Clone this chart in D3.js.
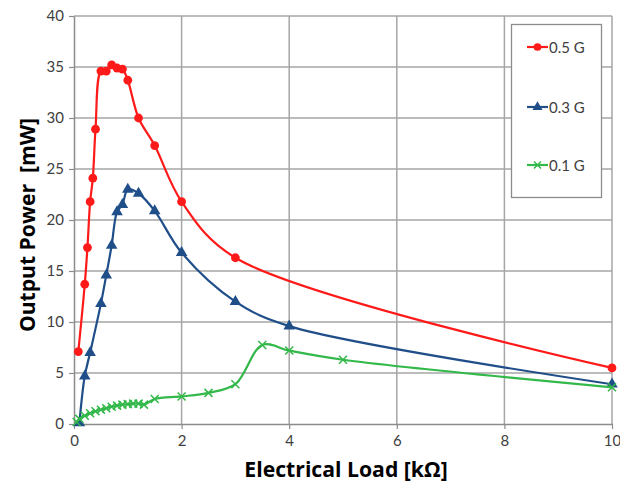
<!DOCTYPE html>
<html>
<head>
<meta charset="UTF-8">
<script src="https://d3js.org/d3.v7.min.js"></script>
<style>
  body { margin: 0; background: #fff; }
  svg { display: block; font-family: Lato, "Open Sans", sans-serif; }
  .tick text { fill: #404040; font-size: 15px; }
  .title { font-weight: bold; font-size: 20px; fill: #000; font-family: "Open Sans", Lato, sans-serif; }
</style>
</head>
<body>
<svg width="620" height="487"></svg>
<script>
// Output power [mW] vs. electrical load [kOhm] for three acceleration levels
const redX = [0.08, 0.2, 0.25, 0.3, 0.35, 0.4, 0.5, 0.6, 0.7, 0.8, 0.9, 1.0, 1.2, 1.5, 2, 3, 10];
const redY = [7.1, 13.7, 17.3, 21.8, 24.1, 28.9, 34.6, 34.6, 35.2, 34.9, 34.8, 33.7, 30.0, 27.3, 21.8, 16.3, 5.5];

const blueX = [0.1, 0.2, 0.3, 0.5, 0.6, 0.7, 0.8, 0.9, 1.0, 1.2, 1.5, 2, 3, 4, 10];
const blueY = [0.1, 4.7, 7.0, 11.8, 14.6, 17.5, 20.8, 21.5, 23.0, 22.6, 20.9, 16.8, 12.0, 9.6, 3.9];

const greenX = [0.05, 0.1, 0.2, 0.3, 0.4, 0.5, 0.6, 0.7, 0.8, 0.9, 1.0, 1.1, 1.2, 1.3, 1.5, 2, 2.5, 3, 3.5, 4, 5, 10];
const greenY = [0.2, 0.5, 0.8, 1.05, 1.25, 1.4, 1.55, 1.7, 1.8, 1.9, 1.95, 2.0, 2.0, 1.9, 2.45, 2.7, 3.05, 3.9, 7.75, 7.2, 6.3, 3.6];

const seriesNames = ["0.5 G", "0.3 G", "0.1 G"];
const xTicks = [0, 2, 4, 6, 8, 10];
const yTicks = [0, 5, 10, 15, 20, 25, 30, 35, 40];

const series = [
  { name: seriesNames[0], xs: redX, ys: redY, color: "#ff1a1a", marker: "circle" },
  { name: seriesNames[1], xs: blueX, ys: blueY, color: "#1f4e89", marker: "triangle" },
  { name: seriesNames[2], xs: greenX, ys: greenY, color: "#33b84a", marker: "cross" }
];

const svg = d3.select("svg");
const margin = { left: 74, right: 8, top: 16, bottom: 63 };
const W = 620, H = 487;

const x = d3.scaleLinear().domain([0, 10]).range([margin.left, W - margin.right]);
const y = d3.scaleLinear().domain([0, 40]).range([H - margin.bottom, margin.top]);

// grid
const grid = svg.append("g");
grid.selectAll(".gx").data(xTicks.slice(1)).enter().append("line")
  .attr("x1", d => x(d)).attr("x2", d => x(d))
  .attr("y1", y(0)).attr("y2", y(40))
  .attr("stroke", "#a6a6a6").attr("stroke-width", 1.5);
grid.selectAll(".gy").data(yTicks.slice(1)).enter().append("line")
  .attr("x1", x(0)).attr("x2", x(10))
  .attr("y1", d => y(d)).attr("y2", d => y(d))
  .attr("stroke", "#a6a6a6").attr("stroke-width", 1.5);

// axes
const xAxis = svg.append("g").attr("transform", `translate(0,${y(0)})`)
  .call(d3.axisBottom(x).tickValues(xTicks).tickSize(5).tickSizeOuter(0).tickPadding(6));
const yAxis = svg.append("g").attr("transform", `translate(${x(0)},0)`)
  .call(d3.axisLeft(y).tickValues(yTicks).tickSize(5).tickSizeOuter(0).tickPadding(5));
[xAxis, yAxis].forEach(a => {
  a.select(".domain").attr("stroke", "#8c8c8c").attr("stroke-width", 1.5);
  a.selectAll(".tick line").attr("stroke", "#8c8c8c").attr("stroke-width", 1.2);
  a.selectAll(".tick text").attr("font-family", "Lato, 'Open Sans', sans-serif");
});

// titles (sized to match the reference text widths)
function fitWidth(sel, target) {
  const len = sel.node().getComputedTextLength();
  if (len > 0 && Math.abs(len - target) > 3) sel.style("font-size", (20 * target / len).toFixed(1) + "px");
}
const xTitle = svg.append("text").attr("class", "title")
  .attr("x", 346).attr("y", 477).attr("text-anchor", "middle")
  .text("Electrical Load [kΩ]");
fitWidth(xTitle, 203);
const yTitle = svg.append("text").attr("class", "title")
  .attr("transform", "translate(35,225) rotate(-90)").attr("text-anchor", "middle")
  .attr("xml:space", "preserve")
  .text("Output Power  [mW]");
fitWidth(yTitle, 214);

// lines and markers
const line = d3.line().curve(d3.curveCatmullRom.alpha(0.5))
  .x(d => x(d[0])).y(d => y(d[1]));

function drawMarker(g, type, color, size) {
  if (type === "circle") {
    g.append("circle").attr("r", size * 0.55).attr("fill", color);
  } else if (type === "triangle") {
    g.append("path").attr("d", d3.symbol(d3.symbolTriangle, size * size * 0.9)())
      .attr("fill", color);
  } else {
    const s = size * 0.5;
    g.append("path").attr("d", `M${-s},${-s}L${s},${s}M${-s},${s}L${s},${-s}`)
      .attr("stroke", color).attr("stroke-width", 1.5).attr("fill", "none");
  }
}

series.forEach(s => {
  const pts = s.xs.map((v, i) => [v, s.ys[i]]);
  svg.append("path").datum(pts).attr("d", line)
    .attr("fill", "none").attr("stroke", s.color).attr("stroke-width", 2.2);
  svg.append("g").selectAll("g").data(pts).enter().append("g")
    .attr("transform", d => `translate(${x(d[0])},${y(d[1])})`)
    .each(function () { drawMarker(d3.select(this), s.marker, s.color, 8); });
});

// legend
const legend = svg.append("g");
legend.append("rect").attr("x", 511.5).attr("y", 24.5).attr("width", 90).attr("height", 173)
  .attr("fill", "#fff").attr("stroke", "#8c8c8c").attr("stroke-width", 1.3);
const legY = [47, 107, 165];
series.forEach((s, i) => {
  const g = legend.append("g").attr("transform", `translate(0,${legY[i]})`);
  g.append("line").attr("x1", 527).attr("x2", 548).attr("y1", 0).attr("y2", 0)
    .attr("stroke", s.color).attr("stroke-width", 2.2);
  const m = g.append("g").attr("transform", "translate(537.5,0)");
  drawMarker(m, s.marker, s.color, 7);
  g.append("text").attr("x", 549).attr("y", 5.5).attr("fill", "#404040")
    .attr("font-size", 15).text(s.name);
});
</script>
</body>
</html>
